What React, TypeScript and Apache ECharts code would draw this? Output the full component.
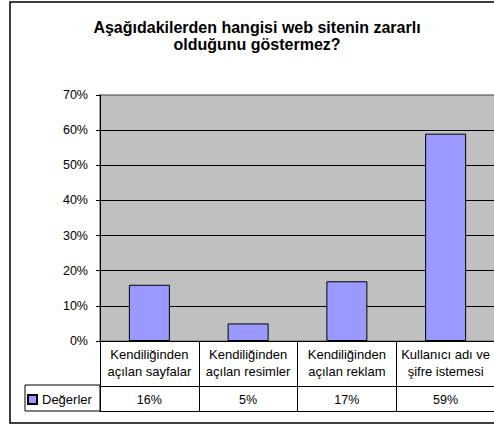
import React, { useEffect, useRef } from "react";
import * as echarts from "echarts";

const titleText = "Aşağıdakilerden hangisi web sitenin zararlı\nolduğunu göstermez?";
const categories = [
  "Kendiliğinden\naçılan sayfalar",
  "Kendiliğinden\naçılan resimler",
  "Kendiliğinden\naçılan reklam",
  "Kullanıcı adı ve\nşifre istemesi",
];
const values = [16, 5, 17, 59];
const seriesName = "Değerler";
const yTicks = [0, 10, 20, 30, 40, 50, 60, 70];

const FONT = "'Liberation Sans', Arial, sans-serif";

export default function App() {
  const ref = useRef<HTMLDivElement>(null);
  useEffect(() => {
    document.body.style.margin = "0";
    document.body.style.overflow = "hidden";
    const chart = echarts.init(ref.current!, undefined, { renderer: "svg" });
    const valueLabels = values.map((v) => v + "%");
    chart.setOption({
      animation: false,
      backgroundColor: "#ffffff",
      textStyle: { fontFamily: FONT },
      title: {
        text: titleText,
        left: "center",
        top: 14,
        textStyle: { fontFamily: FONT, fontSize: 16, fontWeight: "bold", color: "#000", lineHeight: 17 },
      },
      legend: {
        left: 22,
        top: 388,
        itemWidth: 9,
        itemHeight: 9,
        itemGap: 4,
        icon: "rect",
        data: [seriesName],
        textStyle: { fontFamily: FONT, fontSize: 13, color: "#000" },
        selectedMode: false,
      },
      grid: {
        left: 100,
        top: 95,
        width: 395,
        height: 246,
        show: true,
        backgroundColor: "#C0C0C0",
        borderColor: "#808080",
        borderWidth: 1.5,
      },
      xAxis: [
        {
          type: "category",
          data: categories,
          position: "bottom",
          axisLine: { show: true, lineStyle: { color: "#000", width: 1 } },
          axisTick: { show: true, length: 70, lineStyle: { color: "#000", width: 1 } },
          axisLabel: { fontFamily: FONT, fontSize: 13, color: "#000", lineHeight: 17, margin: 5, interval: 0 },
        },
        {
          type: "category",
          data: valueLabels,
          position: "bottom",
          offset: 45,
          axisLine: { show: true, lineStyle: { color: "#000", width: 1 } },
          axisTick: { show: false },
          axisLabel: { fontFamily: FONT, fontSize: 12.5, color: "#000", margin: 7, interval: 0 },
        },
        {
          type: "category",
          data: valueLabels,
          position: "bottom",
          offset: 70,
          axisLine: { show: true, lineStyle: { color: "#000", width: 1 } },
          axisTick: { show: false },
          axisLabel: { show: false },
        },
      ],
      yAxis: {
        type: "value",
        min: yTicks[0],
        max: yTicks[yTicks.length - 1],
        interval: 10,
        axisLine: { show: true, lineStyle: { color: "#000", width: 1 } },
        axisTick: { show: true, length: 4, lineStyle: { color: "#000" } },
        axisLabel: { formatter: "{value}%", fontFamily: FONT, fontSize: 12.5, color: "#000", margin: 12 },
        splitLine: {
          show: true,
          lineStyle: { color: ["#000", "#000", "#000", "#000", "#000", "#000", "#000", "#808080"], width: 1 },
        },
      },
      series: [
        {
          name: seriesName,
          type: "bar",
          data: values,
          barWidth: 41,
          itemStyle: { color: "#9999FF", borderColor: "#000", borderWidth: 1 },
        },
      ],
      graphic: [
        {
          type: "rect",
          shape: { x: 25, y: 385, width: 75, height: 26 },
          style: { fill: "none", stroke: "#000", lineWidth: 1 },
          z: 10,
        },
        {
          type: "rect",
          shape: { x: 10, y: 2, width: 520, height: 421 },
          style: { fill: "none", stroke: "#000", lineWidth: 1.5 },
          z: 10,
        },
      ],
    });
    return () => chart.dispose();
  }, []);
  return <div ref={ref} style={{ width: 514, height: 425 }} />;
}
